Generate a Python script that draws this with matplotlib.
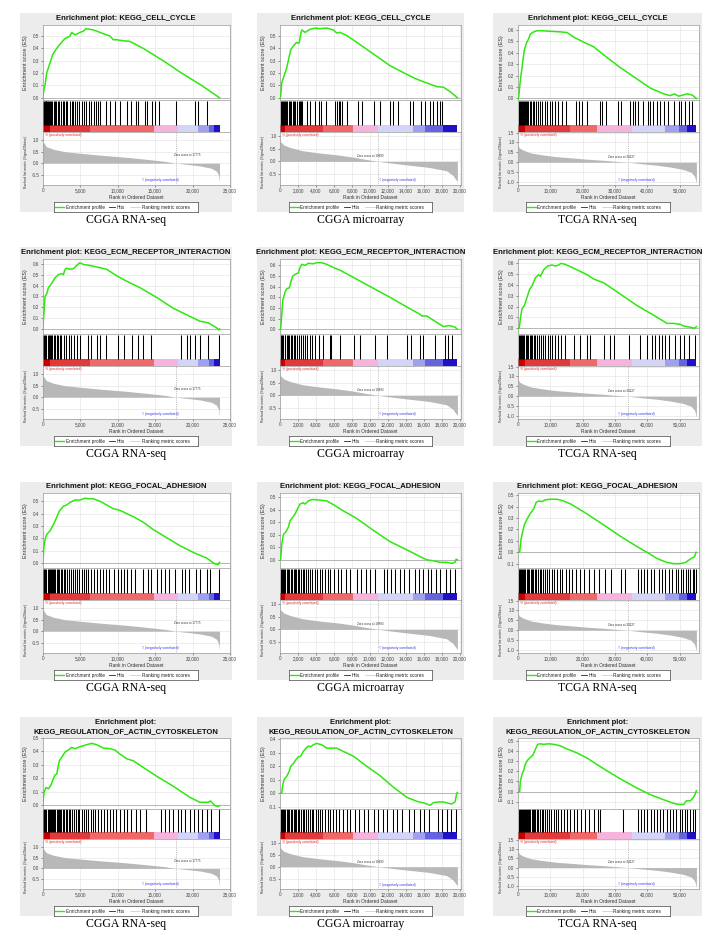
import matplotlib
matplotlib.use("Agg")
import matplotlib.pyplot as plt
from matplotlib.patches import Rectangle
from matplotlib.ticker import FuncFormatter, MultipleLocator, FormatStrFormatter

plt.rcParams['font.family'] = ['Liberation Sans', 'DejaVu Sans']

# ---------------- data (ranks in thousands) ----------------
row_labels = ["(A)", "(B)", "(C)", "(D)"]
gene_sets = ["KEGG_CELL_CYCLE", "KEGG_ECM_RECEPTOR_INTERACTION",
             "KEGG_FOCAL_ADHESION", "KEGG_REGULATION_OF_ACTIN_CYTOSKELETON"]
datasets = ["CGGA RNA-seq", "CGGA microarray", "TCGA RNA-seq"]
zero_cross = [17775, 10893, 34127]
legend_labels = ["Enrichment profile", "Hits", "Ranking metric scores"]

# ranked list metric (one ranked list per dataset)
metric_x_cgga = [0, 0.5, 1.5, 3.0, 5.4, 8.0, 10.7, 13.5, 16.3, 17.775, 19.5, 21.0, 22.5, 23.2, 23.5, 23.6]
metric_y_cgga = [0.95, 0.72, 0.6, 0.5, 0.42, 0.34, 0.27, 0.18, 0.08, 0.0, -0.06, -0.12, -0.22, -0.35, -0.55, -0.85]
metric_x_micro = [0, 0.4, 1.1, 2.5, 4.4, 6.5, 8.1, 9.5, 10.893, 13.6, 16.6, 18.5, 19.2, 19.7]
metric_y_micro = [0.8, 0.65, 0.55, 0.42, 0.33, 0.25, 0.17, 0.08, 0.0, -0.12, -0.24, -0.37, -0.55, -0.8]
metric_x_tcga = [0, 0.5, 1.5, 4.0, 7.7, 12.0, 16.0, 21.0, 26.3, 30.0, 34.127, 38.0, 43.0, 47.0, 51.0, 53.5, 54.6, 55.2]
metric_y_tcga = [0.85, 0.72, 0.62, 0.47, 0.37, 0.28, 0.23, 0.16, 0.1, 0.05, 0.0, -0.07, -0.15, -0.24, -0.36, -0.5, -0.7, -1.05]

# colour bar bands (edges in thousands)
band_edges_cgga = [0, 1.0, 6.3, 14.8, 18.1, 20.7, 22.2, 22.9, 23.6]
band_edges_micro = [0, 0.56, 4.8, 8.15, 10.9, 14.8, 16.1, 18.07, 19.7]
band_edges_tcga = [0, 2.3, 16.2, 24.3, 35.3, 45.6, 49.7, 52.3, 55.2]
band_colors = ['#c80000', '#e23a3a', '#f06868', '#f4b4dc', '#d4d4f8', '#a0a0f0', '#6464e0', '#2010c8']

# running enrichment scores
es_x_a1 = [0, 0.18, 0.31, 0.53, 1.07, 1.33, 1.87, 2.53, 2.98, 3.64, 3.87, 4.31, 4.98, 5.42, 5.78, 6.76, 7.64, 8.98, 9.42, 9.87, 10.98, 11.42, 11.87, 13.42, 14.76, 16.09, 18.53, 21.2, 23.6]
es_y_a1 = [0.0, 0.07, 0.1, 0.2, 0.3, 0.35, 0.4, 0.45, 0.48, 0.5, 0.53, 0.51, 0.53, 0.54, 0.56, 0.55, 0.53, 0.50, 0.47, 0.47, 0.46, 0.46, 0.45, 0.40, 0.35, 0.30, 0.20, 0.10, 0.0]
es_x_a2 = [0, 0.07, 0.19, 0.37, 0.74, 1.04, 1.19, 1.48, 1.85, 2.04, 2.15, 2.33, 2.44, 2.78, 3.33, 3.89, 4.44, 5.19, 5.93, 6.30, 6.67, 7.41, 8.52, 10.37, 12.22, 14.07, 15.19, 15.93, 16.67, 17.41, 18.15, 18.89, 19.7]
es_y_a2 = [0, 0.01, 0.12, 0.16, 0.24, 0.34, 0.39, 0.42, 0.45, 0.44, 0.45, 0.53, 0.55, 0.53, 0.555, 0.565, 0.56, 0.565, 0.55, 0.525, 0.53, 0.505, 0.45, 0.355, 0.26, 0.19, 0.15, 0.13, 0.11, 0.09, 0.085, 0.05, 0.0]
es_x_a3 = [0, 0.2, 0.51, 0.92, 1.44, 1.95, 2.57, 3.29, 3.81, 4.84, 5.87, 7.42, 10.0, 13.1, 15.16, 17.23, 20.32, 23.42, 26.5, 31.6, 36.8, 40.96, 45.1, 47.15, 48.4, 49.7, 52.3, 53.9, 55.2]
es_y_a3 = [0, 0.01, 0.1, 0.2, 0.31, 0.42, 0.48, 0.52, 0.56, 0.58, 0.59, 0.59, 0.585, 0.58, 0.575, 0.535, 0.49, 0.45, 0.38, 0.27, 0.17, 0.09, 0.04, 0.025, 0.04, 0.02, 0.04, 0.03, 0.0]

es_x_b1 = [0, 0.18, 0.31, 0.53, 0.76, 1.2, 1.64, 2.09, 2.53, 2.76, 2.98, 3.2, 3.64, 4.09, 4.76, 4.98, 5.42, 6.31, 7.64, 8.53, 9.87, 11.2, 12.98, 15.2, 17.42, 19.64, 20.98, 22.09, 23.2, 23.5, 23.6]
es_y_b1 = [0, 0.16, 0.3, 0.32, 0.38, 0.42, 0.47, 0.5, 0.51, 0.5, 0.55, 0.56, 0.55, 0.555, 0.6, 0.61, 0.595, 0.585, 0.565, 0.55, 0.49, 0.44, 0.38, 0.29, 0.19, 0.115, 0.07, 0.055, 0.01, -0.012, 0.0]
es_x_b2 = [0, 0.07, 0.19, 0.3, 0.56, 0.74, 1.04, 1.19, 1.41, 1.78, 2.04, 2.22, 2.41, 2.78, 3.15, 3.7, 4.07, 4.63, 5.19, 5.93, 6.67, 8.52, 10.37, 12.22, 14.07, 15.56, 15.74, 16.3, 17.04, 18.15, 18.7, 19.07, 19.44, 19.7]
es_y_b2 = [0, 0.0, 0.13, 0.27, 0.35, 0.38, 0.39, 0.44, 0.5, 0.52, 0.53, 0.58, 0.61, 0.6, 0.62, 0.615, 0.625, 0.625, 0.61, 0.58, 0.555, 0.47, 0.385, 0.3, 0.21, 0.14, 0.125, 0.125, 0.085, 0.025, 0.035, 0.03, 0.02, 0.0]
es_x_b3 = [0, 0.41, 0.72, 1.24, 1.96, 2.79, 3.6, 4.33, 5.36, 6.39, 6.91, 7.94, 9.18, 10.53, 11.56, 12.6, 13.3, 14.65, 17.23, 21.36, 23.42, 26.5, 31.7, 36.8, 42.0, 46.1, 48.2, 50.2, 51.3, 52.3, 53.3, 54.6, 55.2]
es_y_b3 = [0, 0.0, 0.09, 0.18, 0.21, 0.285, 0.36, 0.39, 0.465, 0.495, 0.48, 0.54, 0.575, 0.585, 0.575, 0.585, 0.6, 0.59, 0.555, 0.495, 0.455, 0.42, 0.315, 0.21, 0.12, 0.045, 0.045, 0.036, 0.02, 0.015, 0.01, 0.0, 0.015]

es_x_c1 = [0, 0.18, 0.31, 0.53, 0.98, 1.42, 1.87, 2.22, 2.76, 3.2, 3.64, 4.31, 4.98, 5.64, 6.09, 6.76, 7.64, 8.53, 9.42, 10.09, 10.53, 11.2, 12.09, 13.42, 14.76, 16.53, 18.31, 20.09, 21.87, 22.98, 23.42, 23.6]
es_y_c1 = [0, 0.14, 0.19, 0.23, 0.26, 0.31, 0.37, 0.42, 0.46, 0.47, 0.49, 0.51, 0.51, 0.525, 0.52, 0.52, 0.5, 0.47, 0.44, 0.43, 0.42, 0.4, 0.375, 0.33, 0.27, 0.205, 0.14, 0.085, 0.04, -0.008, -0.013, 0.005]
es_x_c2 = [0, 0.07, 0.19, 0.37, 0.67, 0.93, 1.11, 1.41, 1.67, 1.93, 2.22, 2.59, 2.78, 3.15, 3.52, 3.89, 4.63, 5.19, 5.93, 7.04, 8.52, 10.37, 12.22, 14.07, 15.56, 16.3, 17.04, 17.78, 18.52, 19.07, 19.44, 19.56, 19.7]
es_y_c2 = [0, 0.0, 0.12, 0.2, 0.225, 0.26, 0.31, 0.34, 0.365, 0.405, 0.445, 0.455, 0.445, 0.47, 0.48, 0.48, 0.475, 0.47, 0.44, 0.39, 0.33, 0.235, 0.145, 0.08, 0.025, 0.0, -0.008, -0.02, -0.02, -0.028, -0.02, 0.005, 0.0]
es_x_c3 = [0, 0.51, 0.92, 1.44, 1.95, 2.79, 3.8, 4.84, 5.66, 6.39, 7.42, 8.45, 10.0, 12.1, 14.1, 16.2, 20.3, 26.5, 31.7, 36.8, 39.9, 43.0, 46.1, 48.2, 50.2, 51.8, 52.8, 53.9, 54.6, 55.1]
es_y_c3 = [0, 0.0, 0.11, 0.18, 0.24, 0.29, 0.34, 0.38, 0.44, 0.45, 0.445, 0.46, 0.465, 0.465, 0.45, 0.425, 0.355, 0.24, 0.14, 0.05, 0.0, -0.055, -0.09, -0.1, -0.1, -0.09, -0.07, -0.05, -0.04, 0.0]

es_x_d1 = [0, 0.18, 0.44, 0.76, 1.07, 1.42, 1.64, 1.87, 2.22, 2.53, 2.98, 3.42, 3.87, 4.31, 4.98, 5.87, 6.53, 7.2, 8.09, 8.98, 9.64, 10.31, 11.2, 12.09, 13.42, 15.2, 17.42, 19.64, 20.98, 22.09, 22.4, 22.98, 23.42, 23.6]
es_y_d1 = [0, 0.095, 0.13, 0.12, 0.145, 0.195, 0.225, 0.23, 0.33, 0.355, 0.395, 0.41, 0.43, 0.42, 0.435, 0.45, 0.46, 0.45, 0.425, 0.42, 0.41, 0.38, 0.345, 0.33, 0.28, 0.215, 0.14, 0.057, 0.02, 0.02, 0.03, -0.005, -0.012, -0.005]
es_x_d2 = [0, 0.19, 0.3, 0.48, 0.74, 1.04, 1.19, 1.48, 1.78, 2.04, 2.3, 2.59, 2.89, 3.15, 3.41, 3.7, 4.07, 4.63, 5.19, 5.74, 6.3, 7.04, 8.15, 9.63, 11.11, 12.59, 14.07, 15.19, 16.11, 16.67, 17.04, 17.59, 18.15, 18.7, 19.07, 19.44, 19.63, 19.7]
es_y_d2 = [0, 0.0, 0.06, 0.105, 0.125, 0.165, 0.2, 0.22, 0.25, 0.27, 0.275, 0.31, 0.335, 0.35, 0.345, 0.36, 0.37, 0.36, 0.335, 0.335, 0.335, 0.31, 0.275, 0.2, 0.13, 0.045, -0.03, -0.06, -0.075, -0.09, -0.07, -0.065, -0.065, -0.075, -0.08, -0.065, 0.0, 0.005]
es_x_d3 = [0, 0.51, 0.72, 1.24, 1.75, 2.27, 2.99, 3.8, 4.64, 5.36, 6.08, 6.9, 7.94, 9.49, 11.04, 13.1, 15.16, 18.26, 21.36, 26.5, 31.7, 36.8, 41.0, 45.1, 48.2, 49.7, 51.3, 52.1, 53.3, 54.2, 54.6, 55.2]
es_y_d3 = [0, 0.0, 0.1, 0.17, 0.21, 0.27, 0.31, 0.335, 0.36, 0.415, 0.465, 0.47, 0.465, 0.47, 0.465, 0.45, 0.42, 0.38, 0.33, 0.225, 0.125, 0.035, -0.03, -0.08, -0.115, -0.125, -0.125, -0.09, -0.09, -0.06, -0.04, 0.01]

# gene set member positions (hits)
hits_a1 = [0.05, 0.15, 0.25, 0.4, 0.5, 0.6, 0.75, 0.9, 1.0, 1.15, 1.3, 1.45, 1.6, 1.8, 2.0, 2.2, 2.4, 2.7, 2.9, 3.1, 3.3, 3.6, 3.9, 4.1, 4.3, 4.6, 4.9, 5.2, 5.5, 5.8, 6.2, 6.5, 6.8, 7.1, 7.4, 7.7, 8.4, 9.0, 9.6, 10.3, 11.2, 11.8, 12.4, 12.7, 13.6, 13.9, 14.6, 15.0, 15.5, 17.8, 20.3, 20.7, 21.9]
hits_a2 = [0.1, 0.2, 0.3, 0.45, 0.55, 0.65, 0.8, 0.95, 1.1, 1.25, 1.4, 1.55, 1.7, 1.85, 2.1, 2.2, 2.3, 2.45, 2.95, 3.3, 3.9, 4.3, 4.6, 5.1, 6.1, 6.3, 6.5, 6.7, 6.9, 7.4, 8.7, 9.1, 10.4, 11.1, 12.2, 12.6, 13.1, 14.4, 14.8, 15.7, 16.1, 16.7, 17.0, 17.4, 17.8, 18.0]
hits_a3 = [0.3, 0.6, 0.9, 1.2, 1.5, 1.8, 2.1, 2.4, 2.8, 3.2, 3.6, 4.0, 4.5, 5.0, 5.5, 6.2, 6.8, 7.5, 8.2, 9.0, 9.8, 10.5, 11.6, 12.5, 13.6, 14.8, 17.8, 18.9, 19.8, 21.3, 25.3, 26.1, 27.1, 30.9, 31.9, 34.5, 35.5, 36.3, 37.2, 38.7, 40.2, 40.8, 41.8, 43.0, 44.0, 45.1, 46.3, 48.4, 49.7, 50.5, 51.6, 52.8, 53.8]
hits_b1 = [0.05, 0.2, 0.35, 0.5, 0.65, 0.8, 0.95, 1.1, 1.3, 1.5, 1.7, 1.9, 2.1, 2.3, 2.5, 2.8, 3.1, 3.5, 3.8, 4.2, 4.6, 5.0, 6.1, 6.5, 7.2, 7.6, 8.5, 10.1, 10.8, 11.9, 12.7, 13.4, 14.5, 18.5, 19.2, 19.6, 20.3, 21.0, 22.1, 23.5]
hits_b2 = [0.1, 0.2, 0.35, 0.5, 0.6, 0.75, 0.9, 1.05, 1.2, 1.35, 1.5, 1.7, 1.9, 2.1, 2.3, 2.5, 2.8, 3.0, 3.3, 3.6, 3.9, 4.3, 4.8, 5.6, 5.7, 6.7, 8.2, 8.9, 10.6, 11.9, 14.1, 14.6, 15.6, 15.9, 17.2, 18.3, 18.7, 19.1]
hits_b3 = [0.3, 0.6, 0.9, 1.3, 1.6, 2.0, 2.4, 2.8, 3.2, 3.6, 4.0, 4.4, 4.9, 5.4, 5.9, 6.5, 7.2, 7.7, 8.5, 9.2, 10.0, 10.6, 11.4, 12.3, 13.2, 14.6, 17.2, 19.3, 21.4, 22.4, 26.5, 28.6, 29.6, 34.3, 37.9, 39.9, 41.5, 42.5, 43.5, 44.6, 45.6, 46.6, 48.7, 50.2, 51.3, 52.8, 54.8]
hits_c1 = [0.05, 0.2, 0.35, 0.5, 0.65, 0.8, 0.95, 1.1, 1.25, 1.4, 1.55, 1.7, 1.85, 2.0, 2.2, 2.4, 2.6, 2.8, 3.0, 3.25, 3.5, 3.75, 4.0, 4.3, 4.6, 4.9, 5.2, 5.5, 5.8, 6.1, 6.4, 6.8, 7.2, 7.6, 8.0, 8.4, 8.8, 9.5, 10.0, 10.4, 10.9, 11.3, 11.8, 12.3, 13.4, 14.0, 14.5, 15.2, 15.8, 16.3, 16.9, 17.6, 18.6, 19.0, 19.5, 20.4, 21.0, 21.9, 22.3, 23.5]
hits_c2 = [0.1, 0.2, 0.3, 0.45, 0.6, 0.75, 0.9, 1.05, 1.2, 1.35, 1.5, 1.65, 1.8, 1.95, 2.1, 2.3, 2.5, 2.7, 2.9, 3.1, 3.35, 3.6, 3.85, 4.1, 4.4, 4.7, 5.0, 5.3, 5.6, 6.0, 6.4, 6.8, 7.3, 7.8, 8.6, 9.0, 9.5, 10.0, 10.6, 11.5, 11.9, 12.3, 12.8, 13.3, 13.8, 14.3, 15.0, 15.4, 15.9, 16.4, 16.8, 17.3, 17.8, 18.4, 18.9, 19.4]
hits_c3 = [0.3, 0.6, 0.9, 1.2, 1.5, 1.9, 2.3, 2.7, 3.1, 3.5, 3.9, 4.3, 4.7, 5.2, 5.7, 6.2, 6.7, 7.2, 7.8, 8.4, 9.0, 9.7, 10.4, 11.2, 12.0, 12.9, 13.7, 14.8, 15.8, 16.8, 18.0, 19.3, 20.5, 21.9, 23.5, 25.2, 26.8, 28.8, 31.9, 33.1, 37.0, 38.0, 39.0, 40.0, 41.0, 42.2, 43.5, 44.5, 45.6, 46.6, 47.7, 48.8, 49.5, 50.3, 51.1, 51.9, 52.6, 53.3, 54.0, 54.6, 55.0]
hits_d1 = [0.05, 0.2, 0.35, 0.5, 0.65, 0.8, 0.95, 1.1, 1.25, 1.4, 1.55, 1.7, 1.85, 2.0, 2.15, 2.3, 2.5, 2.7, 2.9, 3.1, 3.3, 3.5, 3.7, 3.9, 4.15, 4.4, 4.65, 4.9, 5.2, 5.5, 5.8, 6.1, 6.4, 6.7, 7.0, 7.4, 7.8, 8.2, 8.6, 9.0, 9.4, 9.8, 10.3, 10.8, 11.3, 11.8, 12.4, 13.0, 13.8, 15.8, 16.3, 16.8, 17.4, 18.0, 18.5, 19.0, 19.6, 20.2, 20.7, 21.3, 21.9, 22.4, 23.5]
hits_d2 = [0.1, 0.2, 0.3, 0.45, 0.6, 0.75, 0.9, 1.05, 1.2, 1.35, 1.5, 1.65, 1.8, 1.95, 2.1, 2.3, 2.5, 2.7, 2.9, 3.1, 3.3, 3.5, 3.7, 3.95, 4.2, 4.45, 4.7, 5.0, 5.3, 5.6, 5.9, 6.2, 6.6, 7.0, 7.4, 7.8, 8.3, 8.8, 9.3, 9.8, 10.4, 10.9, 11.4, 11.9, 12.5, 13.0, 13.6, 14.3, 14.9, 15.5, 16.0, 16.6, 17.5, 18.0, 18.5, 19.0, 19.5]
hits_d3 = [0.3, 0.6, 0.9, 1.2, 1.5, 1.8, 2.1, 2.4, 2.7, 3.0, 3.4, 3.8, 4.2, 4.6, 5.0, 5.4, 5.8, 6.3, 6.8, 7.3, 7.8, 8.4, 9.0, 9.6, 10.3, 11.0, 11.7, 12.5, 13.3, 14.2, 15.2, 16.2, 17.2, 18.3, 19.5, 20.6, 21.9, 23.4, 24.8, 25.4, 32.6, 37.0, 38.0, 39.0, 40.0, 41.0, 42.0, 43.0, 44.0, 45.0, 46.0, 47.0, 48.0, 49.0, 50.0, 50.8, 51.6, 52.4, 53.2, 54.0, 54.8]

# ES axis ranges
es_ylim = [[(-0.02, 0.59), (-0.02, 0.59), (-0.015, 0.64)],
           [(-0.05, 0.645), (-0.046, 0.66), (-0.055, 0.64)],
           [(-0.043, 0.567), (-0.067, 0.533), (-0.14, 0.52)],
           [(-0.03, 0.5), (-0.117, 0.41), (-0.17, 0.527)]]

# ---------------- layout (pixels) ----------------
W, H = 709, 932
col_plot_x = [(42.7, 230), (280, 461), (518, 699)]
col_bg_x = [(20, 232), (257, 464), (493, 702)]
col_xmax = [25000, 20100, 56000]
col_xstep = [5000, 2000, 10000]
metric_ylim = [(-0.95, 1.35), (-0.93, 1.15), (-1.15, 1.52)]
zc_text = [(19.3, 0.35), (10.0, 0.21), (32.0, 0.29)]
neg_text = [(15.7, -0.72), (13.0, -0.75), (36.5, -0.9)]
row_top = [25, 259, 493, 738]
row_bottom = [185, 419, 653, 889]
row_bg_top = [13, 247, 482, 717]
row_label_y = [18, 253, 487, 723]

GREEN = '#2ee80f'
GRID = '#e2e2e2'
SPINE = '#9a9a9a'

es_x = [[es_x_a1, es_x_a2, es_x_a3], [es_x_b1, es_x_b2, es_x_b3],
        [es_x_c1, es_x_c2, es_x_c3], [es_x_d1, es_x_d2, es_x_d3]]
es_y = [[es_y_a1, es_y_a2, es_y_a3], [es_y_b1, es_y_b2, es_y_b3],
        [es_y_c1, es_y_c2, es_y_c3], [es_y_d1, es_y_d2, es_y_d3]]
hits = [[hits_a1, hits_a2, hits_a3], [hits_b1, hits_b2, hits_b3],
        [hits_c1, hits_c2, hits_c3], [hits_d1, hits_d2, hits_d3]]
metric_x = [metric_x_cgga, metric_x_micro, metric_x_tcga]
metric_y = [metric_y_cgga, metric_y_micro, metric_y_tcga]
band_edges = [band_edges_cgga, band_edges_micro, band_edges_tcga]


def box(x0, y0, x1, y1):
    return [x0 / W, 1 - y1 / H, (x1 - x0) / W, (y1 - y0) / H]


def style_axes(ax):
    for s in ax.spines.values():
        s.set_color(SPINE)
        s.set_linewidth(0.5)
    ax.tick_params(labelsize=3.3, length=1.5, width=0.4, pad=1, colors='#444444')


def comma(v, p):
    return f"{int(round(v)):,}"


def draw_legend(cx, cy):
    lg = fig.add_axes(box(cx - 72, cy - 5, cx + 72, cy + 5))
    lg.set_xlim(0, 1)
    lg.set_ylim(0, 1)
    lg.set_xticks([])
    lg.set_yticks([])
    for s in lg.spines.values():
        s.set_color('#444444')
        s.set_linewidth(0.5)
    lg.plot([0.01, 0.07], [0.5, 0.5], color=GREEN, lw=1.0)
    lg.text(0.08, 0.3, legend_labels[0], fontsize=3.4, va='baseline', color='#222222')
    lg.plot([0.385, 0.425], [0.5, 0.5], color='#222222', lw=0.6)
    lg.text(0.435, 0.3, legend_labels[1], fontsize=3.4, va='baseline', color='#222222')
    lg.plot([0.53, 0.6], [0.5, 0.5], color='#cfcfcf', lw=0.6)
    lg.text(0.61, 0.3, legend_labels[2], fontsize=3.4, va='baseline', color='#222222')


fig = plt.figure(figsize=(W / 100, H / 100), dpi=100)
fig.patch.set_facecolor('white')

for r in range(4):
    T, B = row_top[r], row_bottom[r]
    h = B - T
    y_es = T + 0.47 * h
    y_hit = y_es + 0.20 * h
    fig.text(1, row_label_y[r], row_labels[r], fontsize=7, weight='bold', va='center')
    for c in range(3):
        x0, x1 = col_plot_x[c]
        bx0, bx1 = col_bg_x[c]
        cx = (bx0 + bx1) / 2
        fig.add_artist(Rectangle((bx0 / W, 1 - (B + 27) / H), (bx1 - bx0) / W,
                                 (B + 27 - row_bg_top[r]) / H, transform=fig.transFigure,
                                 facecolor='#ececec', edgecolor='none', zorder=0))
        xmax = col_xmax[c]

        # enrichment score
        ax = fig.add_axes(box(x0, T, x1, y_es))
        style_axes(ax)
        ax.plot([v * 1000 for v in es_x[r][c]], es_y[r][c], color=GREEN, lw=1.1, zorder=3)
        ax.axhline(0, color='#a0a0a0', lw=0.5, zorder=2)
        ax.set_xlim(0, xmax)
        ax.set_ylim(*es_ylim[r][c])
        ax.xaxis.set_major_locator(MultipleLocator(col_xstep[c]))
        ax.yaxis.set_major_locator(MultipleLocator(0.1))
        ax.yaxis.set_major_formatter(FormatStrFormatter('%.1f'))
        ax.tick_params(axis='x', labelbottom=False, length=0)
        ax.grid(True, color=GRID, lw=0.4)
        ax.set_axisbelow(True)

        # hits + colour bar
        hx = fig.add_axes(box(x0, y_es, x1, y_hit))
        style_axes(hx)
        hx.set_xlim(0, xmax)
        hx.set_ylim(0, 1)
        hx.vlines([v * 1000 for v in hits[r][c]], 0.24, 0.99, color='black', lw=0.75)
        edges = band_edges[c]
        lefts = [e * 1000 for e in edges[:-1]]
        widths = [(edges[i + 1] - edges[i]) * 1000 for i in range(len(edges) - 1)]
        hx.bar(lefts, [0.22] * len(lefts), width=widths, bottom=0.01, align='edge',
               color=band_colors, linewidth=0)
        hx.set_xticks([])
        hx.set_yticks([])

        # ranked list metric
        mx = fig.add_axes(box(x0, y_hit, x1, B))
        style_axes(mx)
        mxs = [v * 1000 for v in metric_x[c]]
        mx.fill_between(mxs, metric_y[c], 0, color='#b8b8b8', lw=0, zorder=2)
        mx.axvline(zero_cross[c], color='#888888', lw=0.5, ls=':', zorder=3)
        mx.set_xlim(0, xmax)
        mx.set_ylim(*metric_ylim[c])
        mx.xaxis.set_major_locator(MultipleLocator(col_xstep[c]))
        mx.xaxis.set_major_formatter(FuncFormatter(comma))
        mx.yaxis.set_major_locator(MultipleLocator(0.5))
        mx.yaxis.set_major_formatter(FormatStrFormatter('%.1f'))
        mx.grid(True, color=GRID, lw=0.4)
        mx.set_axisbelow(True)
        mx.text(0.01, 0.985, "'h' (positively correlated)", transform=mx.transAxes,
                fontsize=2.4, color='#e02020', va='top', ha='left')
        mx.text(neg_text[c][0] * 1000, neg_text[c][1], "'l' (negatively correlated)",
                fontsize=2.4, color='#3030e0', va='center', ha='center')
        mx.text(zc_text[c][0] * 1000, zc_text[c][1], f"Zero cross at {zero_cross[c]}",
                fontsize=2.2, color='#333333', va='center', ha='center')
        mx.set_xlabel("Rank in Ordered Dataset", fontsize=3.5, labelpad=1, color='#333333')

        # y labels
        fig.text((x0 - 17) / W, 1 - (T + y_es) / 2 / H, "Enrichment score (ES)",
                 rotation=90, fontsize=3.9, ha='center', va='center', color='#333333')
        fig.text((x0 - 17) / W, 1 - ((y_hit + B) / 2 + 3) / H,
                 "Ranked list metric (Signal2Noise)", rotation=90, fontsize=2.5,
                 ha='center', va='center', color='#333333')

        # title
        title = "Enrichment plot: " + gene_sets[r]
        if r == 3:
            title = "Enrichment plot:\n" + gene_sets[r]
        fig.text(cx / W, 1 - (T - 3) / H, title, fontsize=5.5, weight='bold',
                 ha='center', va='bottom', linespacing=1.3, color='#111111')

        # legend
        draw_legend(cx, B + 22)

        # dataset caption
        fig.text(cx / W, 1 - (B + 35) / H, datasets[c], family='Liberation Serif',
                 fontsize=8.5, ha='center', va='center')

plt.savefig("out.png", dpi=100)
